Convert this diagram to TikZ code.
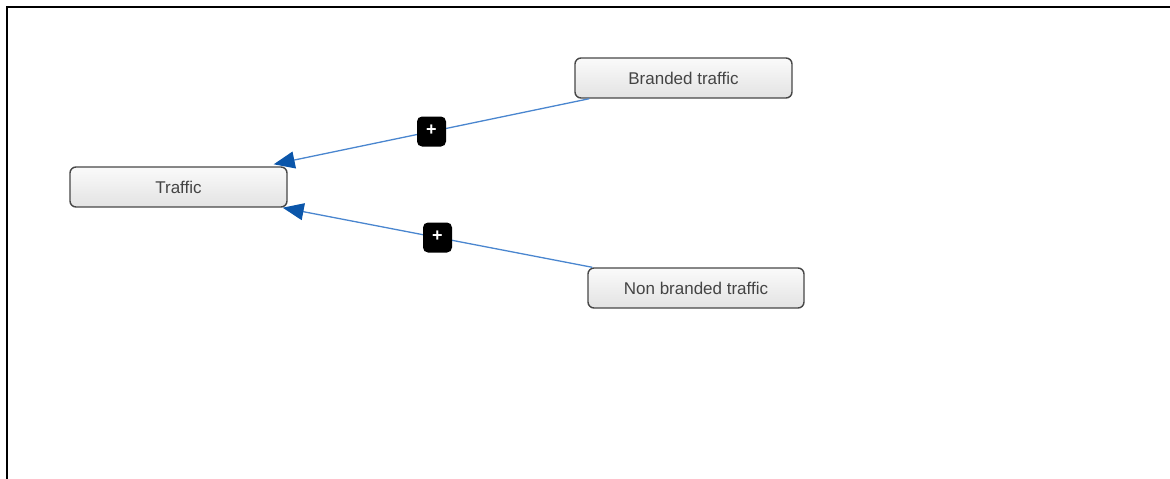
\documentclass[tikz,border=0pt]{standalone}
\usepackage{fontspec}
\setmainfont{Liberation Sans}
\usetikzlibrary{arrows.meta,calc}
\definecolor{boxline}{HTML}{474747}
\definecolor{boxtext}{HTML}{444444}
\definecolor{boxtop}{HTML}{FAFAFA}
\definecolor{boxbottom}{HTML}{E3E3E3}
\definecolor{linkline}{HTML}{4A86CF}
\definecolor{linkhead}{HTML}{0B56AA}
\tikzset{
  topic/.style={draw=boxline, line width=1.4pt, rounded corners=6pt,
    top color=boxtop, bottom color=boxbottom, text=boxtext,
    minimum width=217pt, minimum height=40pt, inner sep=0pt,
    font=\fontsize{17}{20}\selectfont},
  link/.style={draw=linkline, line width=1.3pt,
    -{Triangle[length=21pt,width=17pt,color=linkhead]}},
  expander/.style={fill=black, rounded corners=5pt, minimum width=29pt,
    minimum height=30pt, inner sep=0pt, text=white,
    font=\fontsize{18}{18}\selectfont\bfseries},
}
\begin{document}
\begin{tikzpicture}[x=1pt,y=-1pt]
  \useasboundingbox (0,0) rectangle (1170,479);
  % frame on the top and left edges
  \draw[line width=2pt, line cap=rect] (7,479) -- (7,7) -- (1170,7);

  \node[topic] (traffic) at (178.5,187) {\raisebox{-1pt}{Traffic}};
  \node[topic] (branded) at (683.5,78) {\raisebox{-1pt}{Branded traffic}};
  \node[topic, minimum width=216pt] (nonbranded) at (696,288)
    {\raisebox{-1pt}{Non branded traffic}};

  \draw[link] ($(branded.south west)+(15,0)$) --
    node[expander] (plusA) {\raisebox{2pt}{+}} ($(traffic.north east)+(-14,-2)$);
  \draw[link] ($(nonbranded.north west)+(5,0)$) --
    node[expander] (plusB) {\raisebox{2pt}{+}} ($(traffic.south east)+(-5,0)$);
\end{tikzpicture}
\end{document}
